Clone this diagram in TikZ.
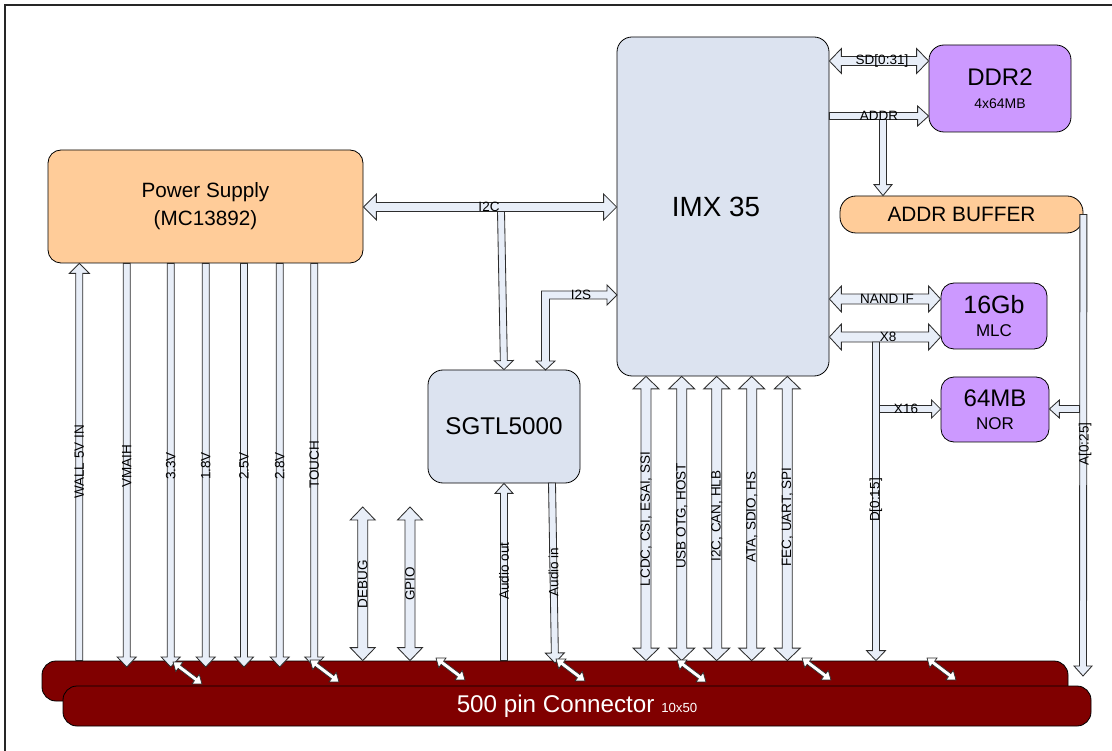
\documentclass[tikz,border=0pt]{standalone}
\usepackage{fontspec}
\setmainfont{Liberation Sans}
\usetikzlibrary{calc}
\definecolor{arrowfill}{RGB}{232,238,248}
\definecolor{peach}{RGB}{255,204,153}
\definecolor{chipblue}{RGB}{220,227,240}
\definecolor{lilac}{RGB}{204,153,255}
\definecolor{connred}{RGB}{128,0,0}
\definecolor{edgegray}{RGB}{45,45,45}

\newcommand\SArr[6][barrow]{%
 \path (#2) coordinate (tmpA) (#3) coordinate (tmpB);
 \path ($(tmpB)!#6!(tmpA)$) coordinate (tmpH);
 \draw[#1] ($(tmpA)!#4!90:(tmpB)$) -- ($(tmpH)!#4!90:(tmpB)$) -- ($(tmpH)!#5!90:(tmpB)$) -- (tmpB) -- ($(tmpH)!#5!-90:(tmpB)$) -- ($(tmpH)!#4!-90:(tmpB)$) -- ($(tmpA)!#4!-90:(tmpB)$) -- cycle;
}
\newcommand\DArr[6][barrow]{%
 \path (#2) coordinate (tmpA) (#3) coordinate (tmpB);
 \path ($(tmpA)!#6!(tmpB)$) coordinate (tmpG) ($(tmpB)!#6!(tmpA)$) coordinate (tmpH);
 \draw[#1] (tmpA) -- ($(tmpG)!#5!90:(tmpB)$) -- ($(tmpG)!#4!90:(tmpB)$) -- ($(tmpH)!#4!90:(tmpB)$) -- ($(tmpH)!#5!90:(tmpB)$) -- (tmpB) -- ($(tmpH)!#5!-90:(tmpB)$) -- ($(tmpH)!#4!-90:(tmpB)$) -- ($(tmpG)!#4!-90:(tmpB)$) -- ($(tmpG)!#5!-90:(tmpB)$) -- cycle;
}

\begin{document}
\begin{tikzpicture}[x=1pt,y=-1pt,
  barrow/.style={draw=edgegray, fill=arrowfill, line width=0.85pt, line join=miter},
  warrow/.style={draw=edgegray, fill=white, line width=0.7pt, line join=miter},
  box/.style={draw=black, line width=0.8pt, rounded corners=13pt, inner sep=0pt, align=center},
  bar/.style={draw=black, line width=0.8pt, fill=connred, rounded corners=14pt, inner sep=0pt},
  lbl/.style={font=\fontsize{13.5}{15}\selectfont, inner sep=0pt, text=black},
  vlbl/.style={lbl, rotate=90},
  frame/.style={draw=black!85, line width=1.6pt}]
\useasboundingbox (0,0) rectangle (1112,751);
\clip (0,0) rectangle (1112,751);
\draw[frame] (5,5) rectangle (1150,790);

% ---------- blocks ----------
\node[box, fill=peach, minimum width=315pt, minimum height=113pt, font=\fontsize{20.7}{28}\selectfont] (ps) at (205.5,206.5) {Power Supply\\(MC13892)};
\node[box, fill=chipblue, minimum width=212pt, minimum height=339pt, rounded corners=15pt, font=\fontsize{27.8}{30}\selectfont] (imx) at (723,206.5) {IMX 35\hspace{14pt}};
\node[box, fill=lilac, minimum width=142pt, minimum height=87pt, rounded corners=15pt, font=\fontsize{24}{22.5}\selectfont] (ddr) at (1000,88.5) {DDR2\\{\fontsize{14}{22.5}\selectfont 4x64MB}};
\node[box, fill=peach, minimum width=243pt, minimum height=37pt, rounded corners=16pt, font=\fontsize{20.8}{24}\selectfont] (abuf) at (961.5,214.5) {ADDR BUFFER};
\node[box, fill=lilac, minimum width=106pt, minimum height=66pt, font=\fontsize{25}{23}\selectfont] (mlc) at (994,316) {16Gb\\{\fontsize{17}{23}\selectfont MLC}};
\node[box, fill=lilac, minimum width=108pt, minimum height=65pt, font=\fontsize{24}{23.5}\selectfont] (nor) at (995,409.5) {64MB\\{\fontsize{17}{23.5}\selectfont NOR}};
\node[box, fill=chipblue, minimum width=152pt, minimum height=113pt, rounded corners=15pt, font=\fontsize{24.2}{26}\selectfont] (sgtl) at (504,426.5) {SGTL5000};

\node[bar, minimum width=1026pt, minimum height=40pt] (conU) at (555,681) {};
\node[bar, minimum width=1028pt, minimum height=40pt, text=white, font=\fontsize{24.2}{26}\selectfont] (conL) at (577,706) {\raisebox{-2pt}{500 pin Connector {\fontsize{13.2}{15}\selectfont 10x50}}};

% ---------- helper coordinates ----------
\coordinate (xwall) at (79.3,0);
\coordinate (xvm) at (126.7,0);
\coordinate (x33) at (170.7,0);
\coordinate (x18) at (205.7,0);
\coordinate (x25) at (244,0);
\coordinate (x28) at (279.7,0);
\coordinate (xto) at (314.3,0);
\coordinate (yrail) at (0,667);
\coordinate (xdbg) at (362.7,0);
\coordinate (xgpio) at (410,0);
\coordinate (ydg) at (0,507);
\coordinate (xb1) at (646,0);
\coordinate (xb2) at (681.7,0);
\coordinate (xb3) at (716.7,0);
\coordinate (xb4) at (751.7,0);
\coordinate (xb5) at (787.3,0);
\coordinate (ysd) at (0,61);
\coordinate (yaddr) at (0,116);
\coordinate (xab) at (883,0);
\coordinate (yi2c) at (0,207);
\coordinate (ynand) at (0,299);
\coordinate (yx8) at (0,337);
\coordinate (xd) at (876,0);
\coordinate (ynor) at (0,409);
\coordinate (xa) at (1083,0);
\coordinate (aEnd) at (1083,676);
\coordinate (i2cJ) at (501,211.5);
\coordinate (ainT) at (552,483);
\coordinate (ainB) at (555,663);
\coordinate (i2sB) at (545.5,370);
\coordinate (i2sC) at (545.5,295);
\coordinate (i2sE) at (617,295);

% ---------- power rails ----------
\SArr{conU.north -| xwall}{ps.south -| xwall}{3.5pt}{10pt}{10pt}
\foreach \c in {xvm,x33,x18,x25,x28,xto}{
  \SArr{ps.south -| \c}{yrail -| \c}{3.5pt}{9.5pt}{10pt}
}
\node[vlbl] (lwall) at (79.3,462) {WALL 5V IN};
\node[vlbl] (lvm) at (126.7,466) {VMAIH};
\node[vlbl] (l33) at (170.7,466) {3.3V};
\node[vlbl] (l18) at (205.7,466) {1.8V};
\node[vlbl] (l25) at (244,466) {2.5V};
\node[vlbl] (l28) at (279.7,466) {2.8V};
\node[vlbl] (lto) at (314.3,465) {TOUCH};

% ---------- debug / gpio ----------
\DArr{ydg -| xdbg}{conU.north -| xdbg}{5pt}{12.5pt}{13pt}
\DArr{ydg -| xgpio}{conU.north -| xgpio}{5pt}{12.5pt}{13pt}
\node[vlbl] (ldbg) at (362.7,584) {DEBUG};
\node[vlbl] (lgpio) at (410,584) {GPIO};

% ---------- audio ----------
\SArr{conU.north -| sgtl.south}{sgtl.south}{3.5pt}{9pt}{10pt}
\SArr{ainT}{ainB}{3.5pt}{9.5pt}{10pt}
\node[vlbl] (laout) at (504,571) {Audio out};
\node[vlbl] (lain) at (553.5,572) {Audio in};

% ---------- IMX buses ----------
\foreach \c in {xb1,xb2,xb3,xb4,xb5}{
  \DArr{imx.south -| \c}{conU.north -| \c}{5pt}{13pt}{12.5pt}
}
\node[vlbl] (lb1) at (646,519) {LCDC, CSI, ESAI, SSI};
\node[vlbl] (lb2) at (681.7,516) {USB OTG, HOST};
\node[vlbl] (lb3) at (716.7,516) {I2C, CAN, HLB};
\node[vlbl] (lb4) at (751.7,517) {ATA, SDIO, HS};
\node[vlbl] (lb5) at (787.3,517) {FEC, UART, SPI};

% ---------- I2C / I2S ----------
\DArr{ps.east |- yi2c}{imx.west |- yi2c}{4.5pt}{13pt}{13pt}
\SArr{i2cJ}{sgtl.north}{3.5pt}{9.5pt}{9pt}
\node[lbl] (li2c) at (489,207) {I2C};
\draw[barrow] (i2sB) -- ($(i2sB)+(-9.5,-9)$) -- ($(i2sB)+(-4,-9)$) -- ($(i2sC)+(-4,-4)$)
  -- ($(i2sE)+(-10,-4)$) -- ($(i2sE)+(-10,-10)$) -- (i2sE) -- ($(i2sE)+(-10,10)$)
  -- ($(i2sE)+(-10,4)$) -- ($(i2sC)+(4,4)$) -- ($(i2sB)+(4,-9)$) -- ($(i2sB)+(9.5,-9)$) -- cycle;
\node[lbl] (li2s) at (581,295) {I2S};

% ---------- memory side ----------
\DArr{imx.east |- ysd}{ddr.west |- ysd}{4.5pt}{12.5pt}{12pt}
\node[lbl] (lsd) at (882,61) {SD[0:31]};
\SArr{imx.east |- yaddr}{ddr.west |- yaddr}{3.5pt}{10pt}{11pt}
\SArr{$(xab |- yaddr)+(0,3.5)$}{abuf.north -| xab}{3.5pt}{9pt}{11pt}
\node[lbl] (laddr) at (879,116) {ADDR};

\DArr{imx.east |- ynand}{mlc.west |- ynand}{5pt}{13pt}{12pt}
\node[lbl] (lnand) at (887,299) {NAND IF};
\DArr{imx.east |- yx8}{mlc.west |- yx8}{5pt}{13pt}{12pt}
\SArr{$(xd |- yx8)+(0,5)$}{conU.north -| xd}{3.5pt}{9.5pt}{10pt}
\SArr{$(xd |- ynor)+(3.5,0)$}{nor.west |- ynor}{3.5pt}{9pt}{9pt}
\node[lbl] (lx8) at (888,337) {X8};
\node[lbl] (lx16) at (906,409) {X16};
\node[vlbl] (ld) at (876,500) {D[0:15]};

\SArr{abuf.east}{aEnd}{3.5pt}{9pt}{10pt}
\SArr{$(xa |- ynor)+(-3.5,0)$}{nor.east |- ynor}{3.5pt}{9pt}{10pt}
\node[vlbl] (la) at (1085,444) {A[0:25]};

% ---------- small pin arrows on connector ----------
\foreach \px/\py in {173/662,310/660,436/658,556/659,677/660,802/658,927/658}{
  \DArr[warrow]{\px,\py}{\px+29,\py+22}{2pt}{6pt}{8pt}
}
\end{tikzpicture}
\end{document}
